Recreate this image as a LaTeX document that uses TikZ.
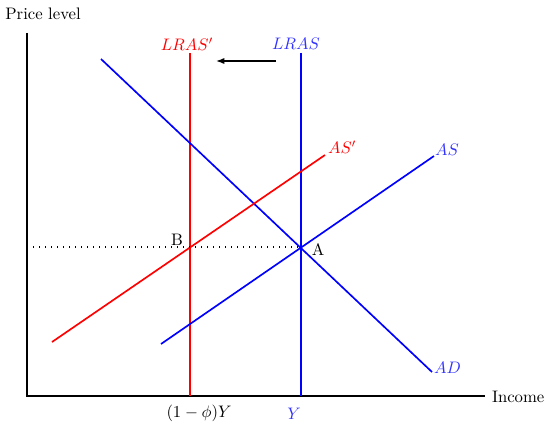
\documentclass[tikz,border=0pt]{standalone}
\usepackage{amsmath}
\usepackage{xcolor}
\usetikzlibrary{arrows.meta,calc,positioning}
\tikzset{
  axisline/.style={line width=1.4pt,black},
  curveblue/.style={blue,line width=1pt},
  curvered/.style={red,line width=1pt},
  bluelabel/.style={text=blue!80,inner sep=1pt},
  redlabel/.style={text=red,inner sep=1pt}
}
\begin{document}
\begin{tikzpicture}[x=0.6pt,y=-0.6pt]
\useasboundingbox (0,0) rectangle (544,424);
% axes
\coordinate (o) at (27,396);
\coordinate (ytop) at (27,33);
\coordinate (xend) at (485,396);
\draw[axisline] (ytop)--(o)--(xend);
\node[anchor=west,inner sep=1pt] (income) at (490,397) {Income};
\node (price) at (43,14) {Price level};
% long-run supply
\coordinate (lrasA) at (301,53);
\coordinate (lrasB) at (301,396);
\coordinate (lrasrA) at (190,53);
\coordinate (lrasrB) at (190,396);
\draw[curveblue] (lrasA)--(lrasB);
\draw[curvered] (lrasrA)--(lrasrB);
\node[bluelabel] (lras) at (296,44) {$LRAS$};
\node[redlabel] (lrasr) at (187,44) {$LRAS'$};
\coordinate (shiftA) at (276,61);
\coordinate (shiftB) at (216,61);
\draw[-{Latex[length=5pt]},line width=0.9pt] (shiftA)--(shiftB);
% demand and short-run supply
\coordinate (adA) at (101,59);
\coordinate (adB) at (432,372);
\draw[curveblue] (adA)--(adB);
\node[bluelabel,anchor=west] (ad) at (432,368) {$AD$};
\coordinate (asA) at (161,344);
\coordinate (asB) at (434,156);
\draw[curveblue] (asA)--(asB);
\node[bluelabel,anchor=west] (as) at (433,150) {$AS$};
\coordinate (asrA) at (52,342);
\coordinate (asrB) at (325,155);
\draw[curvered] (asrA)--(asrB);
\node[redlabel,anchor=west] (asr) at (326,147) {$AS'$};
% price level line
\coordinate (pl) at (33,247);
\coordinate (ptA) at (301,247);
\draw[line width=0.8pt,dash pattern=on 0.8pt off 2.8pt] (pl)--(ptA);
\node (a) at (318,250) {A};
\node (b) at (177,240) {B};
% output labels
\node (yfull) at (199,413) {$(1-\phi)Y$};
\node[bluelabel] (ynew) at (294,414) {$Y$};
\end{tikzpicture}
\end{document}
